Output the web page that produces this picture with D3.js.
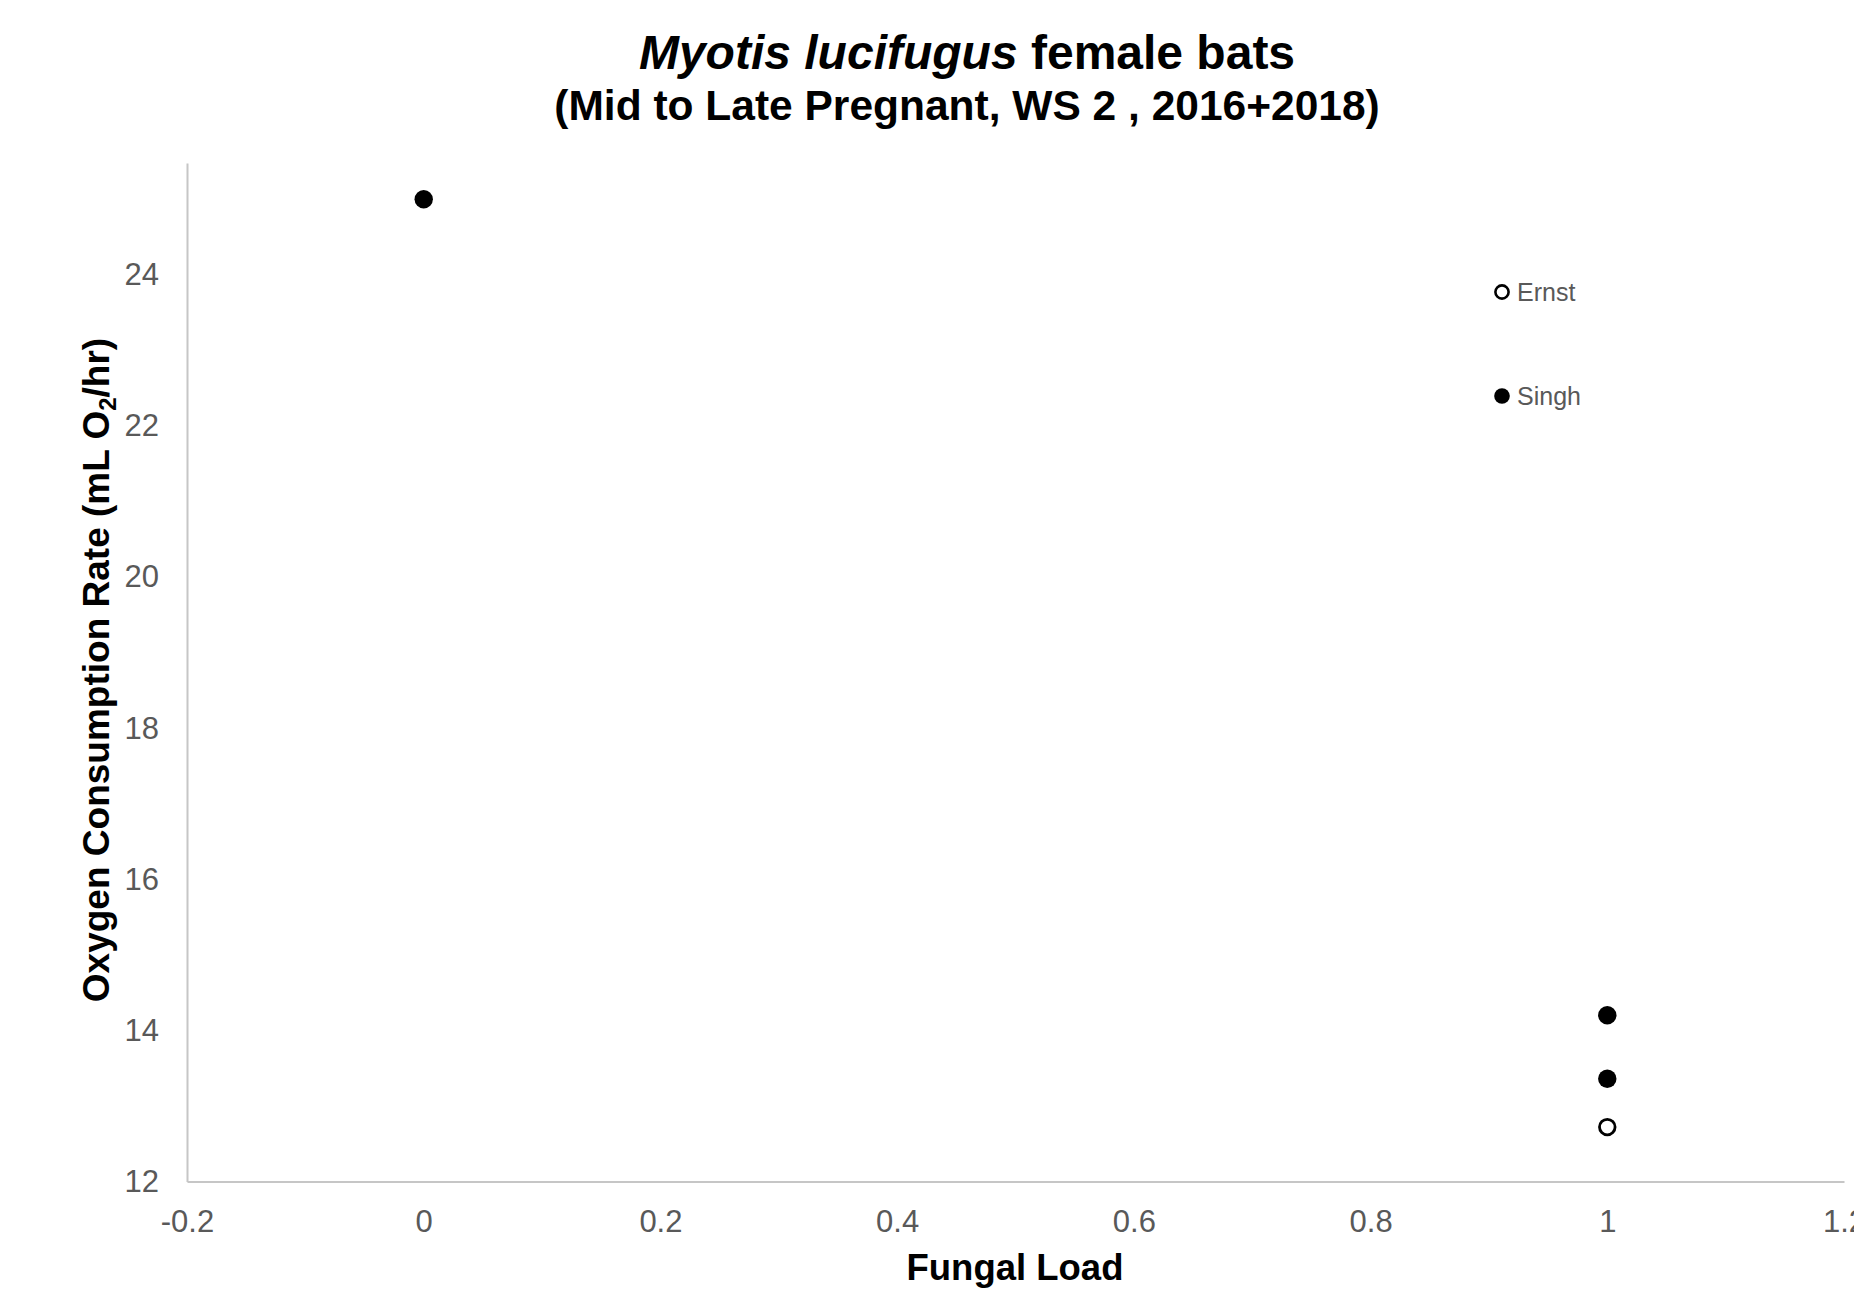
<!DOCTYPE html>
<html>
<head>
<meta charset="utf-8">
<script src="https://cdn.jsdelivr.net/npm/d3@7"></script>
<style>
  body { margin: 0; background: #fff; }
  svg { display: block; font-family: "Liberation Sans", Arial, sans-serif; }
</style>
</head>
<body>
<div id="chart"></div>
<script>
var w = 1854;
var h = 1303;

// data
var seriesNames = ["Ernst", "Singh"];
var ernstLoad = [1];
var ernstRate = [12.72];
var singhLoad = [0, 1, 1];
var singhRate = [25, 14.2, 13.36];

var xTicks = [-0.2, 0, 0.2, 0.4, 0.6, 0.8, 1, 1.2];
var yTicks = [12, 14, 16, 18, 20, 22, 24];

var svg = d3.select("#chart")
            .append("svg")
            .attr("width", w)
            .attr("height", h);

// scales
var xScale = d3.scaleLinear()
    .domain([-0.2, 1.2])
    .range([187, 1844]);
var yScale = d3.scaleLinear()
    .domain([12, 25.48])
    .range([1181.5, 163]);

// axes
var xAxis = d3.axisBottom(xScale)
    .tickValues(xTicks)
    .tickSize(0)
    .tickSizeOuter(0)
    .tickPadding(28)
    .tickFormat(d => String(+d.toFixed(1)));
var yAxis = d3.axisLeft(yScale)
    .tickValues(yTicks)
    .tickSize(0)
    .tickSizeOuter(0)
    .tickPadding(28)
    .tickFormat(d => String(d));

var gx = svg.append("g")
    .attr("transform", "translate(0," + yScale(12) + ")")
    .call(xAxis);
var gy = svg.append("g")
    .attr("transform", "translate(" + xScale(-0.2) + ",0)")
    .call(yAxis);

[gx, gy].forEach(function(g) {
    g.select(".domain").attr("stroke", "#c6c6c6").attr("stroke-width", 2);
    g.selectAll("text")
        .attr("fill", "#595959")
        .style("font-size", "31px")
        .style("font-family", "'Liberation Sans', Arial, sans-serif");
});

// points
var singh = singhLoad.map((d, i) => ({x: d, y: singhRate[i]}));
var ernst = ernstLoad.map((d, i) => ({x: d, y: ernstRate[i]}));

svg.selectAll(".singh")
    .data(singh)
    .enter()
    .append("circle")
    .attr("class", "singh")
    .attr("cx", d => xScale(d.x))
    .attr("cy", d => yScale(d.y))
    .attr("r", 9.2)
    .attr("fill", "#000");

svg.selectAll(".ernst")
    .data(ernst)
    .enter()
    .append("circle")
    .attr("class", "ernst")
    .attr("cx", d => xScale(d.x))
    .attr("cy", d => yScale(d.y))
    .attr("r", 7.8)
    .attr("fill", "#fff")
    .attr("stroke", "#000")
    .attr("stroke-width", 2.8);

// legend
var legend = svg.selectAll(".legend")
    .data(seriesNames)
    .enter()
    .append("g")
    .attr("class", "legend")
    .attr("transform", (d, i) => "translate(1502," + (292 + i * 104) + ")");
legend.append("circle")
    .attr("r", d => d === "Ernst" ? 6.6 : 7.8)
    .attr("fill", d => d === "Ernst" ? "#fff" : "#000")
    .attr("stroke", d => d === "Ernst" ? "#000" : "none")
    .attr("stroke-width", 2.6);
legend.append("text")
    .attr("x", 15)
    .attr("y", 8.5)
    .attr("fill", "#595959")
    .style("font-size", "25px")
    .text(d => d);

// title
var t1 = svg.append("text")
    .attr("x", 967)
    .attr("y", 69)
    .attr("text-anchor", "middle")
    .style("font-size", "48px")
    .style("font-weight", "bold");
t1.append("tspan").style("font-style", "italic").text("Myotis lucifugus");
t1.append("tspan").text(" female bats");

svg.append("text")
    .attr("x", 967)
    .attr("y", 120)
    .attr("text-anchor", "middle")
    .style("font-size", "42.5px")
    .style("font-weight", "bold")
    .text("(Mid to Late Pregnant, WS 2 , 2016+2018)");

// axis titles
svg.append("text")
    .attr("x", 1015)
    .attr("y", 1280)
    .attr("text-anchor", "middle")
    .style("font-size", "36.5px")
    .style("font-weight", "bold")
    .text("Fungal Load");

var yt = svg.append("text")
    .attr("transform", "translate(109,670) rotate(-90)")
    .attr("text-anchor", "middle")
    .style("font-size", "37px")
    .style("font-weight", "bold");
yt.append("tspan").text("Oxygen Consumption Rate (mL O");
yt.append("tspan").attr("dy", 7).style("font-size", "24px").text("2");
yt.append("tspan").attr("dy", -7).text("/hr)");
</script>
</body>
</html>
